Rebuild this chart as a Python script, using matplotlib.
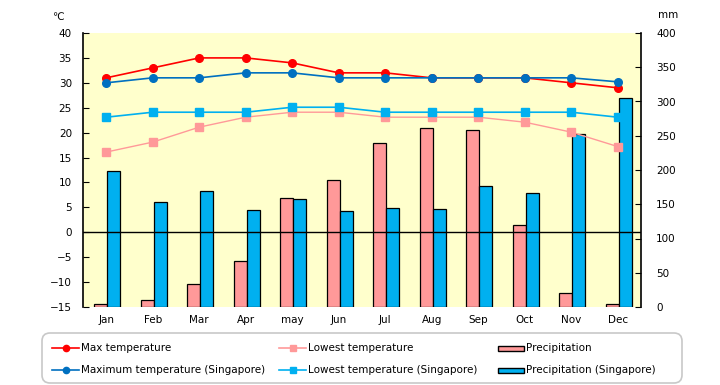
import numpy as np
import matplotlib.pyplot as plt
from matplotlib.lines import Line2D
from matplotlib.patches import FancyBboxPatch, Rectangle

months = ["Jan", "Feb", "Mar", "Apr", "may", "Jun", "Jul", "Aug", "Sep", "Oct", "Nov", "Dec"]
max_temp = [31, 33, 35, 35, 34, 32, 32, 31, 31, 31, 30, 29]
max_temp_sg = [30, 31, 31, 32, 32, 31, 31, 31, 31, 31, 31, 30.2]
low_temp = [16.1, 18.1, 21.1, 23.1, 24.1, 24.1, 23.1, 23.1, 23.1, 22.1, 20.1, 17.2]
low_temp_sg = [23.1, 24.1, 24.1, 24.1, 25.1, 25.1, 24.1, 24.1, 24.1, 24.1, 24.1, 23.1]
precip = [4, 10, 33, 67, 159, 185, 240, 262, 259, 120, 20, 4]
precip_sg = [198, 154, 170, 141, 157, 140, 144, 143, 176, 167, 252, 305]

RED = "#FF0000"
DBLUE = "#0070C0"
PINK = "#FF9999"
CYAN = "#00B0F0"
BG = "#FFFFCC"

plt.rcParams["font.family"] = ["DejaVu Sans"]
fs = 7.5

fig = plt.figure(figsize=(7.2, 3.85), dpi=100)
W, H = 720, 385
# plot area in pixels: x 83..641, y 33..307
ax = fig.add_axes([83 / W, 1 - 307 / H, (641 - 83) / W, (307 - 33) / H])
ax.set_facecolor(BG)
x = np.arange(len(months))
bw = 0.28
ax.bar(x - bw / 2 + 0.02, precip, bw, color=PINK, edgecolor="black", linewidth=0.9, zorder=2)
ax.bar(x + bw / 2 + 0.02, precip_sg, bw, color=CYAN, edgecolor="black", linewidth=0.9, zorder=2)
ax.set_ylim(0, 400)
ax.set_xlim(-0.5, len(months) - 0.5)

ax2 = ax.twinx()
ax2.patch.set_visible(False)

# precipitation on the right, temperature on the left
ax.yaxis.tick_right()
ax.yaxis.set_label_position("right")
ax.set_yticks(np.arange(0, 401, 50))
ax.tick_params(axis="y", direction="in", length=4, pad=11, labelsize=fs,
               left=False, labelleft=False, right=True, labelright=True)
ax.set_xticks(x)
ax.set_xticklabels(months)
ax.tick_params(axis="x", length=0, pad=6, labelsize=fs)
for s in ["top", "bottom", "left"]:
    ax.spines[s].set_visible(False)
ax.spines["right"].set_linewidth(1.2)

ax2.set_ylim(-15, 40)
ax2.yaxis.tick_left()
ax2.yaxis.set_label_position("left")
ax2.set_yticks(np.arange(-15, 41, 5))
ax2.tick_params(axis="y", direction="in", length=4, pad=8, labelsize=fs,
                right=False, labelright=False, left=True, labelleft=True)
for s in ["top", "bottom", "right"]:
    ax2.spines[s].set_visible(False)
ax2.spines["left"].set_visible(True)
ax2.spines["left"].set_linewidth(1.2)
ax2.axhline(0, color="black", linewidth=1, zorder=3)

ms = 5.5
ax2.plot(x, low_temp, color=PINK, marker="s", markersize=ms, linewidth=1, zorder=4)
ax2.plot(x, low_temp_sg, color=CYAN, marker="s", markersize=ms, linewidth=1.2, zorder=5)
ax2.plot(x, max_temp, color=RED, marker="o", markersize=ms, linewidth=1.2, zorder=6)
ax2.plot(x, max_temp_sg, color=DBLUE, marker="o", markersize=ms, linewidth=1.2, zorder=7)

fig.text(58 / W, 1 - 17 / H, "℃", fontsize=fs, ha="center", va="center")
fig.text(668 / W, 1 - 15 / H, "mm", fontsize=fs, ha="center", va="center")

# legend box
lg = fig.add_axes([0, 0, 1, 1], facecolor="none")
lg.set_xlim(0, W)
lg.set_ylim(H, 0)
lg.axis("off")
lg.add_patch(FancyBboxPatch((42, 333), 640, 50, boxstyle="round,pad=0,rounding_size=8",
                            facecolor="white", edgecolor="#C8C8C8", linewidth=1.2))

rows = [348, 370]
entries = [
    (52, rows[0], "line", RED, "o", "Max temperature"),
    (52, rows[1], "line", DBLUE, "o", "Maximum temperature (Singapore)"),
    (279, rows[0], "line", PINK, "s", "Lowest temperature"),
    (279, rows[1], "line", CYAN, "s", "Lowest temperature (Singapore)"),
    (498, rows[0], "bar", PINK, None, "Precipitation"),
    (498, rows[1], "bar", CYAN, None, "Precipitation (Singapore)"),
]
for x0, y0, kind, col, mk, label in entries:
    if kind == "line":
        lg.add_line(Line2D([x0, x0 + 27], [y0, y0], color=col, linewidth=1.2))
        lg.plot([x0 + 13.5], [y0], marker=mk, color=col, markersize=4.5)
        tx = x0 + 29
    else:
        lg.add_patch(Rectangle((x0, y0 - 2.5), 26, 5, facecolor=col, edgecolor="black", linewidth=1))
        tx = x0 + 28
    lg.text(tx, y0, label, fontsize=fs, ha="left", va="center")

fig.savefig("out.png", dpi=100)
